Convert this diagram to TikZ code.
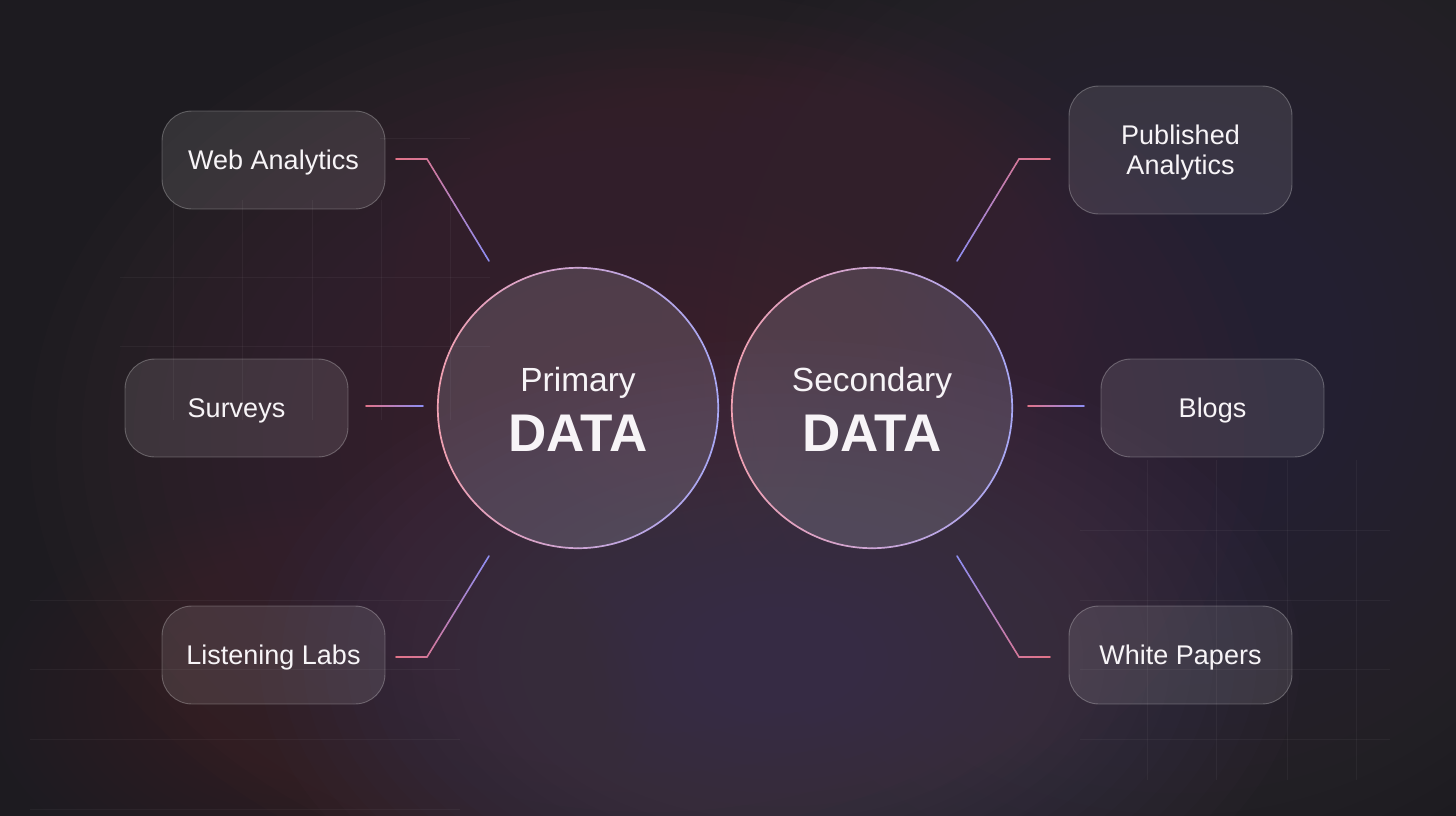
\documentclass[tikz,border=0pt]{standalone}
\usepackage{fontspec}
\setmainfont{Liberation Sans}
\usetikzlibrary{calc}

\definecolor{bgbase}{HTML}{1D1B20}
\definecolor{glowred}{HTML}{4A2E3A}
\definecolor{glowpurple}{HTML}{463B54}
\definecolor{glowblue}{HTML}{363244}
\definecolor{pinkc}{HTML}{E27388}
\definecolor{bluec}{HTML}{8E8EF2}
\definecolor{ringpink}{HTML}{F0A0B0}
\definecolor{ringblue}{HTML}{A8A8F5}
\definecolor{txt}{HTML}{F7F4F7}

\tikzset{
  leaf/.style={draw=white, draw opacity=0.26, line width=0.9pt, fill=white, fill opacity=0.1, text opacity=1,
    rounded corners=30pt, minimum width=223pt, minimum height=98pt, text=txt, text depth=0pt,
    font=\fontsize{27}{31}\selectfont, align=center, inner sep=0pt},
  hub/.style={circle, minimum size=280pt, inner sep=0pt},
  hubsmall/.style={text=txt, font=\fontsize{33.5}{36}\selectfont, inner sep=0pt},
  hubbig/.style={text=txt, font=\fontsize{53}{56}\selectfont\bfseries, inner sep=0pt},
  gridline/.style={draw=white, draw opacity=0.045, line width=0.8pt},
  conn/.style={line width=1.6pt, line cap=round},
  ringseg/.style={line width=1.7pt, line cap=round}
}

% gradient segment between two named coordinates
\newcommand{\gradseg}[4]{%
  \foreach \k in {0,...,19}{%
    \pgfmathsetmacro{\pa}{\k/20}%
    \pgfmathsetmacro{\pb}{(\k+1)/20}%
    \pgfmathtruncatemacro{\mixv}{100-(\k+0.5)*5}%
    \draw[conn, draw=#3!\mixv!#4] ($(#1)!\pa!(#2)$) -- ($(#1)!\pb!(#2)$);
  }%
}
% ring around a named hub: pink on the left, blue on the right
\newcommand{\gradring}[1]{%
  \foreach \a in {0,5,...,355}{%
    \pgfmathtruncatemacro{\mixv}{50-50*cos(\a+2.5)}%
    \draw[ringseg, draw=ringpink!\mixv!ringblue] ($(#1)+(\a:140.2pt)$) arc[start angle=\a, end angle=\a+5, radius=140.2pt];
  }%
}
% soft glow built from stacked translucent ellipses
\newcommand{\softglow}[6]{%
  \foreach \i in {1,...,24}{%
    \pgfmathsetmacro{\ra}{#4*(25-\i)/24}%
    \pgfmathsetmacro{\rb}{#5*(25-\i)/24}%
    \fill[#1, fill opacity=#6] (#2,#3) ellipse ({\ra pt} and {\rb pt});
  }%
}

\begin{document}
\begin{tikzpicture}[x=1pt, y=-1pt]
\useasboundingbox (0,0) rectangle (1456,816);
% background
\fill[bgbase] (0,0) rectangle (1456,816);
\softglow{glowblue}{1180}{360}{520}{520}{0.05}
\softglow{glowred}{650}{440}{620}{470}{0.06}
\softglow{glowred}{740}{280}{360}{260}{0.04}
\softglow{glowpurple}{780}{660}{520}{320}{0.06}
\softglow{glowred}{320}{700}{330}{200}{0.04}

% faint grid patches
\foreach \gx in {173,242,312,381,450}{\draw[gridline] (\gx,200) -- (\gx,420);}
\foreach \gy in {277,346}{\draw[gridline] (120,\gy) -- (490,\gy);}
\draw[gridline] (380,138) -- (470,138);
\foreach \gy in {600,669,739,809}{\draw[gridline] (30,\gy) -- (460,\gy);}
\foreach \gx in {1147,1216,1287,1356}{\draw[gridline] (\gx,460) -- (\gx,780);}
\foreach \gy in {530,600,669,739}{\draw[gridline] (1080,\gy) -- (1390,\gy);}

% hubs
\node[hub] (P) at (578,408) {};
\node[hub] (S) at (872,408) {};
\fill[white, fill opacity=0.13] (P) circle (140pt);
\fill[white, fill opacity=0.13] (S) circle (140pt);
\fill[bluec, fill opacity=0.03] (P) circle (140pt);
\fill[bluec, fill opacity=0.03] (S) circle (140pt);
\gradring{P}
\gradring{S}
\node[hubsmall] (Pt) at (578,383) {Primary};
\node[hubbig] (Pd) at (578,433) {DATA};
\node[hubsmall] (St) at (872,383) {Secondary};
\node[hubbig] (Sd) at (872,433) {DATA};

% leaves
\node[leaf] (web) at (273.5,160) {Web Analytics};
\node[leaf] (srv) at (236.5,408) {Surveys};
\node[leaf] (lst) at (273.5,655) {Listening Labs};
\node[leaf, minimum height=128pt] (pub) at (1180.5,150) {Published\\[-1pt]Analytics};
\node[leaf] (blg) at (1212.5,408) {Blogs};
\node[leaf] (wht) at (1180.5,655) {White Papers};

% connector points
\coordinate (w1) at (396,159); \coordinate (w2) at (427,159); \coordinate (w3) at (489,261);
\coordinate (s1) at (366,406); \coordinate (s2) at (423,406);
\coordinate (l1) at (396,657); \coordinate (l2) at (427,657); \coordinate (l3) at (489,556);
\coordinate (p1) at (1050,159); \coordinate (p2) at (1019,159); \coordinate (p3) at (957,261);
\coordinate (b1) at (1028,406); \coordinate (b2) at (1084,406);
\coordinate (h1) at (1050,657); \coordinate (h2) at (1019,657); \coordinate (h3) at (957,556);

\colorlet{midc}{pinkc!85!bluec}
\gradseg{w1}{w2}{pinkc}{midc}
\gradseg{w2}{w3}{midc}{bluec}
\gradseg{s1}{s2}{pinkc}{bluec}
\gradseg{l1}{l2}{pinkc}{midc}
\gradseg{l2}{l3}{midc}{bluec}
\gradseg{p1}{p2}{pinkc}{midc}
\gradseg{p2}{p3}{midc}{bluec}
\gradseg{b1}{b2}{pinkc}{bluec}
\gradseg{h1}{h2}{pinkc}{midc}
\gradseg{h2}{h3}{midc}{bluec}
\end{tikzpicture}
\end{document}
